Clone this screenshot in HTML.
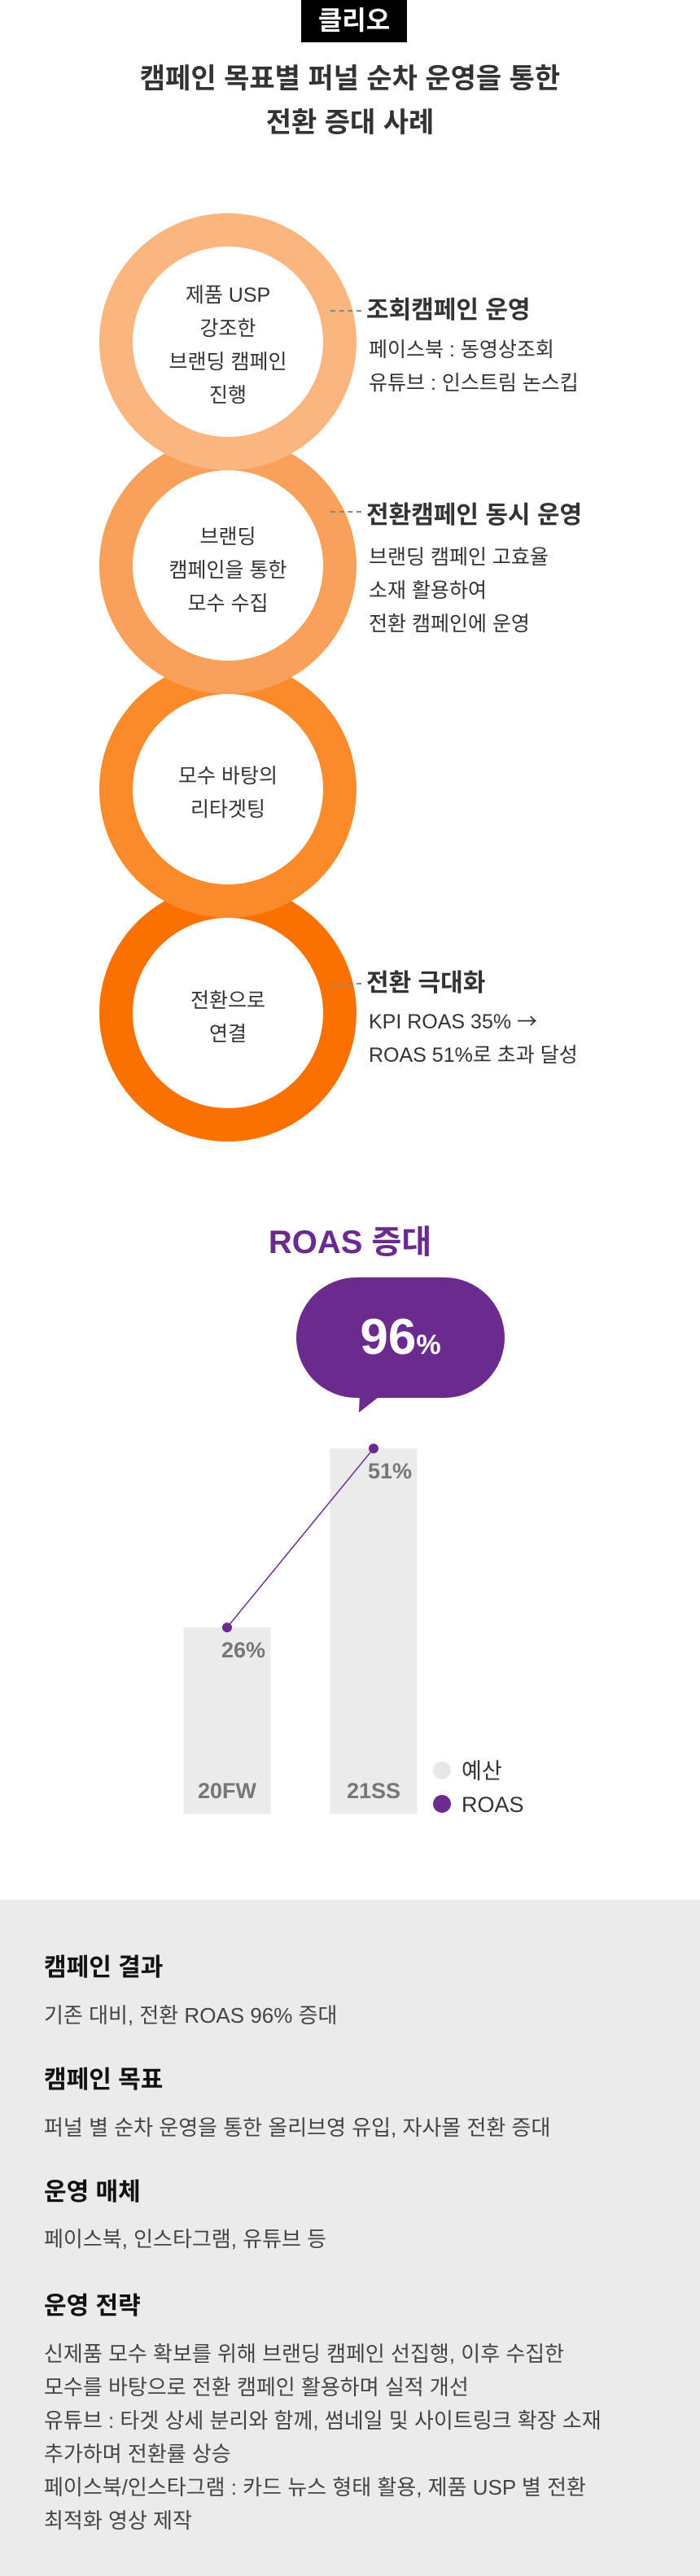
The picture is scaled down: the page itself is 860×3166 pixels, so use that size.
<!DOCTYPE html>
<html><head><meta charset="utf-8"><style>
*{margin:0;padding:0;box-sizing:border-box}
body{width:860px;height:3166px;position:relative;background:#fff;font-family:"Liberation Sans","Noto Sans CJK KR",sans-serif;overflow:hidden}
.a{position:absolute;white-space:nowrap}
.ct{position:absolute;width:240px;left:160px;text-align:center;font-size:25px;line-height:41px;color:#333}
.h{font-size:30px;font-weight:bold;color:#333;line-height:40px}
.s{font-size:25px;color:#333;line-height:41px}
.dash{position:absolute;left:406px;width:38px;border-top:2px dashed #888;height:0}
.bh{position:absolute;left:54px;font-size:30px;font-weight:bold;color:#111;line-height:40px}
.bt{position:absolute;left:54px;font-size:26px;color:#444;line-height:41px;white-space:nowrap}
</style></head><body>
<div class="a" style="left:370px;top:0;width:130px;height:52px;background:#000;color:#fff;font-size:32px;font-weight:bold;text-align:center;line-height:50px">클리오</div>
<div class="a" style="left:0;width:860px;top:70px;text-align:center;font-size:34px;font-weight:bold;color:#333;line-height:54px;white-space:normal">캠페인 목표별 퍼널 순차 운영을 통한<br>전환 증대 사례</div>

<svg class="a" style="left:0;top:0" width="860" height="1420">
<circle cx="280" cy="1245" r="158" fill="#fb7100"/><circle cx="280" cy="1245" r="117" fill="#fff"/>
<circle cx="280" cy="970" r="158" fill="#fb8a2b"/><circle cx="280" cy="970" r="117" fill="#fff"/>
<circle cx="280" cy="695" r="158" fill="#f9a05a"/><circle cx="280" cy="695" r="117" fill="#fff"/>
<circle cx="280" cy="420" r="158" fill="#fbb57e"/><circle cx="280" cy="420" r="117" fill="#fff"/>
</svg>
<div class="ct" style="top:343px">제품 USP<br>강조한<br>브랜딩 캠페인<br>진행</div>
<div class="ct" style="top:640px">브랜딩<br>캠페인을 통한<br>모수 수집</div>
<div class="ct" style="top:934px">모수 바탕의<br>리타겟팅</div>
<div class="ct" style="top:1210px">전환으로<br>연결</div>

<div class="dash" style="top:381px"></div>
<div class="a h" style="left:450px;top:362px">조회캠페인 운영</div>
<div class="a s" style="left:453px;top:410px">페이스북 : 동영상조회<br>유튜브 : 인스트림 논스킵</div>
<div class="dash" style="top:628px"></div>
<div class="a h" style="left:450px;top:614px">전환캠페인 동시 운영</div>
<div class="a s" style="left:453px;top:665px">브랜딩 캠페인 고효율<br>소재 활용하여<br>전환 캠페인에 운영</div>
<div class="dash" style="top:1208px"></div>
<div class="a h" style="left:450px;top:1189px">전환 극대화</div>
<div class="a s" style="left:453px;top:1234px">KPI ROAS 35% <span style="font-family:'Noto Sans CJK KR',sans-serif">→</span><br>ROAS 51%로 초과 달성</div>

<div class="a" style="left:0;width:860px;text-align:center;top:1503px;font-size:40px;font-weight:bold;color:#6a2a8e;line-height:48px">ROAS 증대</div>
<svg class="a" style="left:364px;top:1570px" width="256" height="170">
<rect x="0" y="0" width="256" height="148" rx="74" fill="#6a2a8e"/>
<polygon points="78,140 110,140 77,166" fill="#6a2a8e"/>
<text x="128" y="94" text-anchor="middle" fill="#fff" font-family="Liberation Sans, sans-serif" font-weight="bold"><tspan font-size="62">96</tspan><tspan font-size="34">%</tspan></text>
</svg>
<svg id="chart" class="a" style="left:0;top:1700px" width="860" height="560"></svg>

<div class="a" style="left:0;top:2335px;width:860px;height:831px;background:#ebebeb"></div>
<div class="bh" style="top:2399px">캠페인 결과</div>
<div class="bt" style="top:2457px">기존 대비, 전환 ROAS 96% 증대</div>
<div class="bh" style="top:2537px">캠페인 목표</div>
<div class="bt" style="top:2595px">퍼널 별 순차 운영을 통한 올리브영 유입, 자사몰 전환 증대</div>
<div class="bh" style="top:2675px">운영 매체</div>
<div class="bt" style="top:2732px">페이스북, 인스타그램, 유튜브 등</div>
<div class="bh" style="top:2815px">운영 전략</div>
<div class="bt" style="top:2873px;white-space:normal;width:790px">신제품 모수 확보를 위해 브랜딩 캠페인 선집행, 이후 수집한<br>모수를 바탕으로 전환 캠페인 활용하며 실적 개선<br>유튜브 : 타겟 상세 분리와 함께, 썸네일 및 사이트링크 확장 소재<br>추가하며 전환률 상승<br>페이스북/인스타그램 : 카드 뉴스 형태 활용, 제품 USP 별 전환<br>최적화 영상 제작</div>

<script>
const categories = ["20FW", "21SS"];
const budgetValues = [26, 51];
const roasValues = [26, 51];
const roasLabels = ["26%", "51%"];
const legendLabels = ["예산", "ROAS"];

const svg = document.getElementById('chart');
const NS = 'http://www.w3.org/2000/svg';
const baseY = 529, pxPer = 8.8;
function yPos(v){ return baseY - v * pxPer; }
function xCenter(i){ return 279 + i * 180; }
const barW = 107;
function mk(tag, attrs){ const e = document.createElementNS(NS, tag); for (const k in attrs) e.setAttribute(k, attrs[k]); svg.appendChild(e); return e; }

categories.forEach((c, i) => {
  const r = mk('rect', {x: xCenter(i) - barW/2, y: yPos(budgetValues[i]), width: barW, height: baseY - yPos(budgetValues[i]), fill: '#ebebeb'});
  
  
  const t = mk('text', {x: xCenter(i), y: baseY - 19, 'text-anchor': 'middle', 'font-size': 27, 'font-weight': 'bold', fill: '#777', 'font-family': 'Liberation Sans, sans-serif'});
  t.textContent = c;
  
  
});
const pts = roasValues.map((v, i) => xCenter(i) + ',' + yPos(v)).join(' ');
const line = mk('polyline', {points: pts, fill: 'none', stroke: '#6a2a8e', 'stroke-width': 1.5});


roasValues.forEach((v, i) => {
  const p = mk('circle', {cx: xCenter(i), cy: yPos(v), r: 6, fill: '#6a2a8e'});
  
  
  const t = mk('text', {x: xCenter(i) + 47, y: yPos(v) + 37, 'text-anchor': 'end', 'font-size': 27, 'font-weight': 'bold', fill: '#777', 'font-family': 'Liberation Sans, sans-serif'});
  t.textContent = roasLabels[i];
  
  
});
const legColors = ['#e8e8e8', '#6a2a8e'];
legendLabels.forEach((l, i) => {
  const cy = 476 + i * 41;
  const c = mk('circle', {cx: 543, cy: cy, r: 11, fill: legColors[i]});
  
  
  const t = mk('text', {x: 567, y: cy + 10, 'font-size': 27, fill: '#333', 'font-family': 'Liberation Sans, Noto Sans CJK KR, sans-serif'});
  t.textContent = l;
  
  
});
</script>
</body></html>
